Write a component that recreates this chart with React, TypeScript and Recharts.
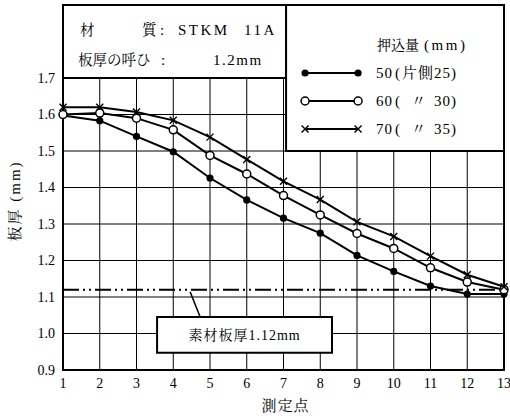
import React from 'react';
import { LineChart, Line, XAxis, YAxis, CartesianGrid, ReferenceLine, ReferenceArea } from 'recharts';

const FONT = "'Liberation Serif','Noto Serif CJK JP','Noto Sans CJK JP',serif";

const points = [1, 2, 3, 4, 5, 6, 7, 8, 9, 10, 11, 12, 13];
const thick50 = [1.597, 1.583, 1.54, 1.498, 1.426, 1.366, 1.316, 1.275, 1.214, 1.17, 1.13, 1.108, 1.108];
const thick60 = [1.6, 1.604, 1.59, 1.558, 1.488, 1.437, 1.378, 1.325, 1.274, 1.233, 1.18, 1.141, 1.12];
const thick70 = [1.62, 1.62, 1.607, 1.584, 1.538, 1.477, 1.417, 1.367, 1.306, 1.266, 1.212, 1.161, 1.128];
const yTicks = [0.9, 1.0, 1.1, 1.2, 1.3, 1.4, 1.5, 1.6, 1.7];
const rawThickness = 1.12;
const rawLabel = '素材板厚1.12mm';
const legendTitle = '押込量 (mm)';
const legendRows = [
  { v: '50', mid: '片側', num: '25)' },
  { v: '60', mid: '〃', num: '30)' },
  { v: '70', mid: '〃', num: '35)' },
];

const data = points.map((p, i) => ({ p, a: thick50[i], b: thick60[i], c: thick70[i] }));

const FilledDot = (props: any) => {
  const { cx, cy, index } = props;
  if (cx == null || cy == null) return <g key={`f${index}`} />;
  return <circle key={`f${index}`} cx={cx} cy={cy} r={3.6} fill="#000" />;
};
const OpenDot = (props: any) => {
  const { cx, cy, index } = props;
  if (cx == null || cy == null) return <g key={`o${index}`} />;
  return <circle key={`o${index}`} cx={cx} cy={cy} r={4} fill="#fff" stroke="#000" strokeWidth={1.5} />;
};
const CrossDot = (props: any) => {
  const { cx, cy, index } = props;
  if (cx == null || cy == null) return <g key={`x${index}`} />;
  const s = 3.5;
  return (
    <g key={`x${index}`} stroke="#000" strokeWidth={1.4}>
      <line x1={cx - s} y1={cy - s} x2={cx + s} y2={cy + s} />
      <line x1={cx - s} y1={cy + s} x2={cx + s} y2={cy - s} />
    </g>
  );
};

const TopBoxLabel = (props: any) => {
  const vb = props.viewBox || {};
  const x = vb.x, y = vb.y;
  const cj = { fontFamily: FONT, fontSize: 14.5, fill: '#000' } as any;
  const lt = { fontFamily: FONT, fontSize: 15, fill: '#000', letterSpacing: 2.5 } as any;
  return (
    <g>
      <text x={x + 17} y={y + 30} style={cj}>材</text>
      <text x={x + 79} y={y + 30} style={cj}>質</text>
      <text x={x + 97} y={y + 30} style={lt}>:</text>
      <text x={x + 115} y={y + 30} style={lt}>STKM</text>
      <text x={x + 181} y={y + 30} style={lt}>11A</text>
      <text x={x + 15} y={y + 60} style={cj}>板厚の呼ひ</text>
      <text x={x + 98} y={y + 60} style={lt}>:</text>
      <text x={x + 150} y={y + 60} style={{ ...lt, letterSpacing: 1.5 }}>1.2mm</text>
    </g>
  );
};

const LegendLabel = (props: any) => {
  const vb = props.viewBox || {};
  const x = vb.x, y = vb.y;
  const st = { fontFamily: FONT, fontSize: 15, fill: '#000', letterSpacing: 1 } as any;
  const rowY = [68, 96, 124];
  const lx1 = x + 19, lx2 = x + 72;
  const markers = [
    (cx: number, cy: number) => <circle cx={cx} cy={cy} r={3.6} fill="#000" />,
    (cx: number, cy: number) => <circle cx={cx} cy={cy} r={4} fill="#fff" stroke="#000" strokeWidth={1.5} />,
    (cx: number, cy: number) => (
      <g stroke="#000" strokeWidth={1.4}>
        <line x1={cx - 3.5} y1={cy - 3.5} x2={cx + 3.5} y2={cy + 3.5} />
        <line x1={cx - 3.5} y1={cy + 3.5} x2={cx + 3.5} y2={cy - 3.5} />
      </g>
    ),
  ];
  const [t1, t2] = legendTitle.split(' ');
  return (
    <g>
      <text x={x + 91} y={y + 45} style={{ ...st, fontSize: 14, letterSpacing: 0 }}>{t1}</text>
      <text x={x + 138} y={y + 45} style={{ ...st, letterSpacing: 2.5 }}>{t2}</text>
      {legendRows.map((r, i) => (
        <g key={i}>
          <line x1={lx1} x2={lx2} y1={y + rowY[i]} y2={y + rowY[i]} stroke="#000" strokeWidth={2} />
          {markers[i](lx1, y + rowY[i])}
          {markers[i](lx2, y + rowY[i])}
          <text x={x + 90} y={y + rowY[i] + 5} style={st}>{r.v}</text>
          <text x={x + 109} y={y + rowY[i] + 5} style={st}>(</text>
          {i === 0 ? (
            <text x={x + 116} y={y + rowY[i] + 5} style={st}>{r.mid}{r.num}</text>
          ) : (
            <>
              <text x={x + 125} y={y + rowY[i] + 5} style={st}>{r.mid}</text>
              <text x={x + 148} y={y + rowY[i] + 5} style={st}>{r.num}</text>
            </>
          )}
        </g>
      ))}
    </g>
  );
};

const RawLabel = (props: any) => {
  const vb = props.viewBox || {};
  return (
    <text x={vb.x + vb.width / 2} y={vb.y + vb.height / 2 + 5} textAnchor="middle"
      style={{ fontFamily: FONT, fontSize: 14, fill: '#000', letterSpacing: 1 }}>{rawLabel}</text>
  );
};

const YTitle = (props: any) => {
  const vb = props.viewBox || {};
  const cx = vb.x + 20;
  const cy = vb.y + vb.height * 0.537;
  return (
    <text x={cx} y={cy} textAnchor="middle" transform={`rotate(-90 ${cx} ${cy})`}
      style={{ fontFamily: FONT, fontSize: 15, fill: '#000', letterSpacing: 2 }}>板厚 (mm)</text>
  );
};

const XTitle = (props: any) => {
  const vb = props.viewBox || {};
  return (
    <text x={vb.x + vb.width / 2 + 2} y={vb.y + 41} textAnchor="middle"
      style={{ fontFamily: FONT, fontSize: 15, fill: '#000', letterSpacing: 1 }}>測定点</text>
  );
};

export default function App() {
  return (
    <div style={{ position: 'absolute', left: 0, top: 0, background: '#fff' }}>
      <LineChart width={510} height={418} data={data} margin={{ top: 5, right: 6, bottom: 0, left: 0 }}>
        <CartesianGrid stroke="#000" strokeWidth={1} />
        <XAxis dataKey="p" type="number" domain={[1, 13]} ticks={points} tickLine={false}
          axisLine={{ stroke: '#000', strokeWidth: 2 }} height={48} interval={0}
          tick={{ fill: '#000', fontSize: 14, fontFamily: FONT }} label={<XTitle />} />
        <YAxis type="number" domain={[0.9, 1.9]} ticks={yTicks} tickLine={false} width={63}
          axisLine={{ stroke: '#000', strokeWidth: 2 }} interval={0}
          tickFormatter={(v: number) => v.toFixed(1)}
          tick={{ fill: '#000', fontSize: 14, fontFamily: FONT }} label={<YTitle />} />
        <ReferenceArea x1={1} x2={13} y1={0.9} y2={1.9} fill="none" stroke="#000" strokeWidth={2} ifOverflow="visible" />
        <ReferenceArea x1={1} x2={7.07} y1={1.7} y2={1.9} fill="#fff" fillOpacity={1} stroke="#000" strokeWidth={2} label={<TopBoxLabel />} />
        <ReferenceArea x1={7.07} x2={13} y1={1.5} y2={1.9} fill="#fff" fillOpacity={1} stroke="#000" strokeWidth={2} label={<LegendLabel />} />
        <ReferenceLine y={rawThickness} stroke="#000" strokeWidth={2} strokeDasharray="16 4 2 4 2 4" />
        <ReferenceLine segment={[{ x: 4.46, y: 1.114 }, { x: 4.73, y: 1.046 }]} stroke="#000" strokeWidth={1.5} />
        <ReferenceArea x1={3.56} x2={8.32} y1={0.947} y2={1.045} fill="#fff" fillOpacity={1} stroke="#000" strokeWidth={2} label={<RawLabel />} />
        <Line dataKey="a" stroke="#000" strokeWidth={2} dot={FilledDot} isAnimationActive={false} />
        <Line dataKey="b" stroke="#000" strokeWidth={2} dot={OpenDot} isAnimationActive={false} />
        <Line dataKey="c" stroke="#000" strokeWidth={2} dot={CrossDot} isAnimationActive={false} />
      </LineChart>
    </div>
  );
}
